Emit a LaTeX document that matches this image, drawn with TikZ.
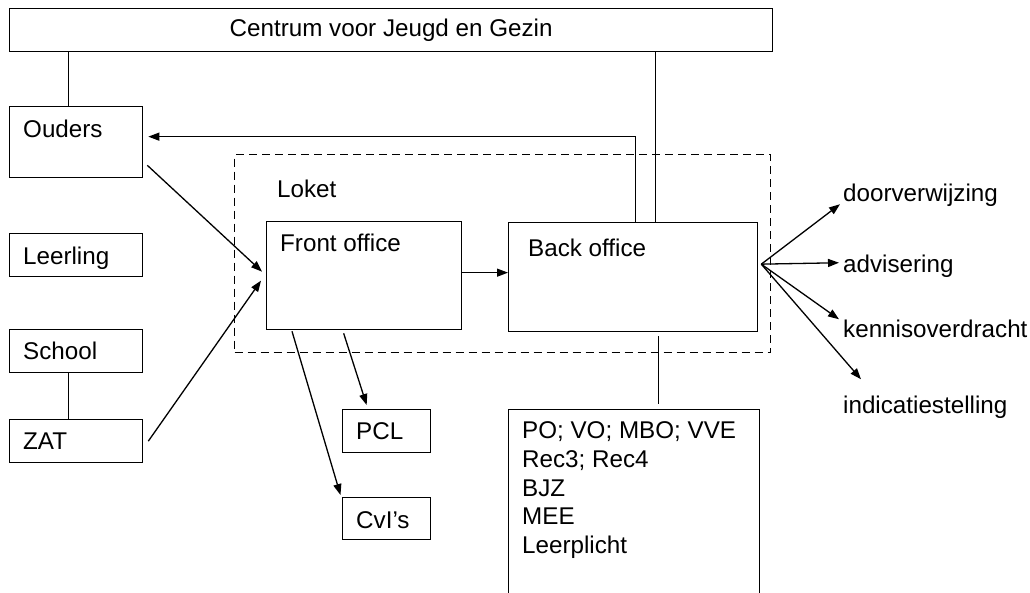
\documentclass[tikz,border=0pt]{standalone}
\usepackage{fontspec}
\setmainfont{Liberation Sans}
\usetikzlibrary{arrows.meta}
\tikzset{
  box/.style={draw, line width=1.3pt, anchor=north west, inner sep=0pt},
  txt/.style={anchor=base west, inner sep=0pt},
  arr/.style={line width=1.3pt, -{Triangle[length=11pt,width=8pt]}},
  con/.style={line width=1.3pt},
}
\begin{document}
\begin{tikzpicture}[x=1pt, y=-1pt, font=\fontsize{24.2}{28.7}\selectfont]
  \useasboundingbox (0,0) rectangle (1030,592);

  % boxes
  \node[box, minimum width=763pt, minimum height=43pt] (cjg) at (9,8) {Centrum voor Jeugd en Gezin};
  \node[box, minimum width=133pt, minimum height=71pt] (ouders) at (9,106) {};
  \node[box, minimum width=133pt, minimum height=43pt] (leerling) at (9,233) {};
  \node[box, minimum width=133pt, minimum height=43pt] (school) at (9,329) {};
  \node[box, minimum width=133pt, minimum height=43pt] (zat) at (9,419) {};
  \node[box, dash pattern=on 8pt off 5pt, minimum width=536pt, minimum height=198pt] (loket) at (234,154) {};
  \node[box, minimum width=195pt, minimum height=108pt] (fo) at (266,221) {};
  \node[box, minimum width=249pt, minimum height=109pt] (bo) at (508,222) {};
  \node[box, minimum width=88pt, minimum height=43pt] (pcl) at (342,409) {};
  \node[box, minimum width=88pt, minimum height=42pt] (cvi) at (342,497) {};
  \node[box, minimum width=251pt, minimum height=200pt] (inst) at (508,409) {};

  % texts
  \node[txt] (ouderstxt) at (23,137) {Ouders};
  \node[txt] (leerlingtxt) at (23,264) {Leerling};
  \node[txt] (schooltxt) at (23,359) {School};
  \node[txt] (zattxt) at (23,449) {ZAT};
  \node[txt] (lokettxt) at (277,197) {Loket};
  \node[txt] (fotxt) at (280,251) {Front office};
  \node[txt] (botxt) at (528,256) {Back office};
  \node[txt] (pcltxt) at (356,439) {PCL};
  \node[txt] (cvitxt) at (356,528) {CvI’s};
  \node[anchor=north west, inner sep=0pt, align=left] (insttxt) at (522,421.5)
    {PO; VO; MBO; VVE\\Rec3; Rec4\\BJZ\\MEE\\Leerplicht};
  \node[txt] (door) at (843,201) {doorverwijzing};
  \node[txt] (adv) at (843,272) {advisering};
  \node[txt] (kennis) at (843,337) {kennisoverdracht};
  \node[txt] (indic) at (843,413) {indicatiestelling};

  % lines
  \draw[con] ([xshift=-7.5pt]ouders.north) -- ([xshift=-7.5pt]ouders.north |- cjg.south);
  \draw[con] ([xshift=-7.5pt]school.south) -- ([xshift=-7.5pt]zat.north);
  \draw[con] ([xshift=22.5pt]bo.north) -- ([xshift=22.5pt]bo.north |- cjg.south);
  \draw[con] ([shift={(25.5pt,-4pt)}]bo.south) -- ([shift={(24.5pt,5pt)}]inst.north);

  % arrows
  \draw[arr] ([xshift=2.5pt]bo.north) |- ([shift={(5pt,5.5pt)}]ouders.east);
  \draw[arr] ([shift={(4pt,13pt)}]ouders.south east) -- ([shift={(-4pt,4pt)}]fo.west);
  \draw[arr] ([xshift=5pt]zat.east) -- ([shift={(-5pt,-5pt)}]fo.west);
  \draw[arr] ([yshift=3pt]fo.east) -- ([yshift=3pt]fo.east -| bo.west);
  \draw[arr] ([shift={(-20.5pt,-3pt)}]fo.south) -- ([shift={(-20pt,4pt)}]pcl.north);
  \draw[arr] ([shift={(26pt,-1pt)}]fo.south west) -- ([shift={(-1.5pt,2pt)}]cvi.north west);

  \coordinate (fan) at ([shift={(3pt,13pt)}]bo.east);
  \draw[arr] (fan) -- ([shift={(-3pt,2pt)}]door.south west);
  \draw[arr] (fan) -- ([shift={(-4pt,3pt)}]adv.west);
  \draw[arr] (fan) -- ([xshift=-4pt]kennis.north west);
  \draw[arr] (fan) -- ([shift={(18pt,16pt)}]indic.north west);
\end{tikzpicture}
\end{document}
